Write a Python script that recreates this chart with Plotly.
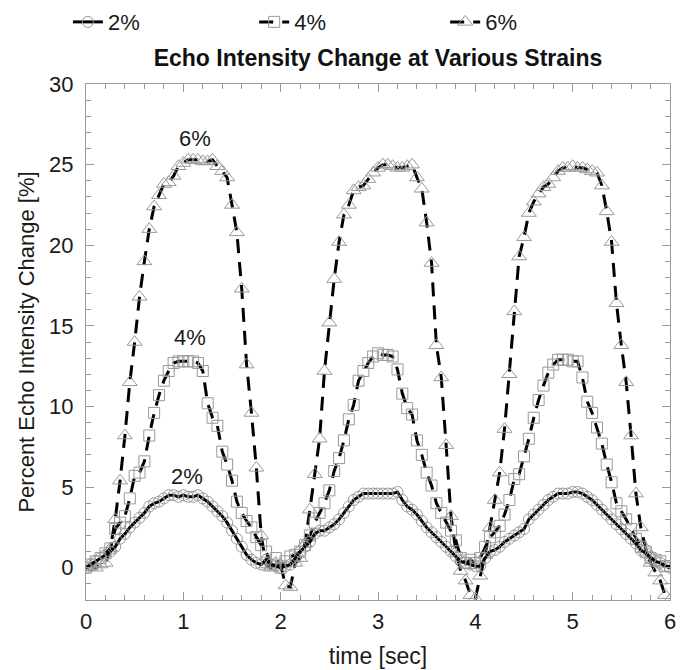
import numpy as np
import plotly.graph_objects as go

# time grid (sec)
time_s = np.round(np.arange(121) * 0.05, 2)

strain_2 = [0.0, 0.2, 0.4, 0.6, 0.8, 1.0, 1.3, 1.8, 2.1, 2.5,
            2.8, 3.1, 3.4, 3.8, 4.0, 4.1, 4.3, 4.5, 4.5, 4.4,
            4.5, 4.4, 4.4, 4.5, 4.3, 4.1, 3.8, 3.5, 3.2, 2.8,
            2.3, 1.8, 1.3, 0.8, 0.5, 0.3, 0.2, 0.5, 0.2, 0.1,
            0.0, 0.1, 0.2, 0.6, 1.0, 1.3, 1.6, 2.1, 2.3, 2.3,
            2.5, 2.7, 3.0, 3.4, 3.8, 4.2, 4.4, 4.6, 4.6, 4.6,
            4.6, 4.6, 4.6, 4.6, 4.7, 4.2, 3.8, 3.6, 3.3, 2.9,
            2.5, 2.2, 1.9, 1.6, 1.3, 1.0, 0.7, 0.4, 0.3, 0.2,
            0.1, 0.1, 0.6, 1.0, 1.1, 1.3, 1.6, 1.8, 2.0, 2.2,
            2.4, 3.0, 3.3, 3.6, 3.9, 4.2, 4.4, 4.6, 4.6, 4.6,
            4.7, 4.7, 4.6, 4.4, 4.2, 3.9, 3.6, 3.3, 3.0, 2.7,
            2.4, 2.1, 1.8, 1.5, 1.1, 0.9, 0.6, 0.4, 0.3, 0.1,
            0.0]

strain_4 = [0.0, 0.2, 0.4, 0.6, 0.9, 1.2, 2.4, 2.8, 3.2, 4.3,
            5.7, 5.9, 6.6, 8.2, 9.6, 10.7, 11.6, 12.2, 12.7, 12.8,
            12.8, 12.8, 12.8, 12.7, 12.2, 10.2, 9.3, 8.8, 7.2, 6.4,
            5.4, 4.1, 3.4, 2.9, 2.5, 1.9, 1.4, 1.0, 0.2, 0.6,
            0.0, 0.4, 0.7, 0.8, 1.0, 1.4, 2.0, 2.8, 3.4, 4.0,
            4.8, 6.0, 6.8, 7.9, 9.2, 10.1, 11.6, 12.2, 12.7, 13.1,
            13.3, 13.2, 13.2, 13.1, 12.3, 10.8, 9.9, 9.5, 7.9, 7.0,
            5.9, 5.1, 4.0, 3.4, 2.8, 2.3, 1.7, 0.6, 0.3, 0.5,
            0.3, 0.6, 1.3, 1.9, 2.2, 2.6, 3.3, 4.2, 5.5, 5.8,
            6.9, 8.0, 9.3, 10.4, 11.3, 12.1, 12.6, 12.9, 12.9, 12.9,
            12.8, 12.8, 11.8, 10.3, 9.6, 8.7, 7.7, 6.4, 5.3, 4.0,
            3.5, 3.0, 2.4, 1.8, 1.3, 1.0, 0.6, 0.5, 0.4, 0.1,
            0.1]

strain_6 = [0.0, 0.1, 0.0, 0.2, 0.3, 1.2, 3.0, 5.4, 8.2, 11.5,
            14.0, 16.8, 19.0, 21.0, 22.4, 23.1, 23.8, 23.9, 24.3, 24.9,
            25.1, 25.3, 25.3, 25.3, 25.2, 25.2, 25.3, 24.9, 24.6, 24.2,
            22.5, 20.8, 17.3, 12.6, 9.6, 6.2, 2.0, 0.2, 0.0, 0.3,
            0.2, -1.1, -1.2, 0.3, 0.6, 1.5, 3.6, 5.8, 8.0, 12.2,
            15.2, 17.9, 20.2, 21.9, 22.5, 23.4, 23.6, 23.7, 24.1, 24.5,
            24.8, 25.0, 25.0, 24.9, 24.8, 24.8, 24.9, 25.0, 24.2, 23.5,
            21.4, 18.9, 13.8, 11.8, 7.6, 3.2, 1.0, -0.2, -0.8, -1.7,
            -1.9, -0.5, 0.8, 2.5, 4.2, 5.9, 8.6, 12.0, 15.9, 19.3,
            20.5, 22.0, 22.7, 23.2, 23.6, 23.8, 24.2, 24.6, 24.8, 24.8,
            24.9, 24.8, 24.8, 24.7, 24.6, 24.5, 23.7, 22.1, 20.2, 16.4,
            13.8, 11.5, 8.2, 4.6, 2.5, 1.2, 0.3, -0.3, -0.8, -1.7,
            -2.0]

series_names = ["2%", "4%", "6%"]
label_pos = {"2%": (1.04, 5.65), "4%": (1.07, 14.3), "6%": (1.12, 26.6)}

FONT = "Arial, Liberation Sans, sans-serif"
MARK = "#999999"
TXT = "#1a1a1a"

fig = go.Figure()
styles = {
    "6%": dict(dash="14px,9px", symbol="triangle-up-open", size=13, legend="legend3"),
    "4%": dict(dash="14px,9px", symbol="square-open", size=11, legend="legend2"),
    "2%": dict(dash="solid", symbol="circle-open", size=11, legend="legend"),
}
data = {"2%": strain_2, "4%": strain_4, "6%": strain_6}
for name in ["6%", "4%", "2%"]:
    st = styles[name]
    fig.add_trace(go.Scatter(
        x=time_s, y=data[name], name=name, mode="lines+markers",
        legend=st["legend"],
        line=dict(color="black", width=3, dash=st["dash"]),
        marker=dict(symbol=st["symbol"], size=st["size"], color=MARK,
                    line=dict(width=1, color=MARK)),
    ))

for name, (tx, ty) in label_pos.items():
    fig.add_annotation(x=tx, y=ty, text=name, showarrow=False,
                       font=dict(family=FONT, size=22, color=TXT))

axis_common = dict(
    showgrid=False, zeroline=False, showline=True, linecolor="#9a9a9a",
    linewidth=1, mirror="allticks", ticks="inside", ticklen=8,
    tickcolor="#9a9a9a", tickwidth=1, automargin=False,
    tickfont=dict(family=FONT, size=22, color=TXT),
)
fig.update_xaxes(range=[0, 6], dtick=1, tick0=0,
                 minor=dict(ticks="inside", dtick=0.2, ticklen=5, tickcolor="#9a9a9a"),
                 title=dict(text="time [sec]", font=dict(family=FONT, size=23, color=TXT), standoff=14),
                 ticklabelstandoff=2,
                 **axis_common)
fig.update_yaxes(range=[-2, 30], dtick=5, tick0=0,
                 minor=dict(ticks="inside", dtick=1, ticklen=5, tickcolor="#9a9a9a"),
                 title=dict(text="Percent Echo Intensity Change [%]", font=dict(family=FONT, size=22, color=TXT), standoff=8),
                 ticklabelstandoff=7,
                 **axis_common)

leg_common = dict(orientation="h", xanchor="left", yanchor="middle", y=1.12,
                  font=dict(family=FONT, size=22, color=TXT), bgcolor="rgba(0,0,0,0)")
fig.update_layout(
    width=686, height=670,
    margin=dict(l=86, r=16, t=84, b=70, autoexpand=False),
    paper_bgcolor="white", plot_bgcolor="white",
    title=dict(text="<b>Echo Intensity Change at Various Strains</b>",
               x=0.5, xref="paper", xanchor="center", y=1 - 58 / 670, yanchor="middle",
               font=dict(family=FONT, size=23, color="#111")),
    legend=dict(x=-0.031, **leg_common),
    legend2=dict(x=0.288, **leg_common),
    legend3=dict(x=0.615, **leg_common),
    showlegend=True,
)

fig.write_html("out.html", config={"displayModeBar": False},
               post_script="document.body.style.margin='0';")
